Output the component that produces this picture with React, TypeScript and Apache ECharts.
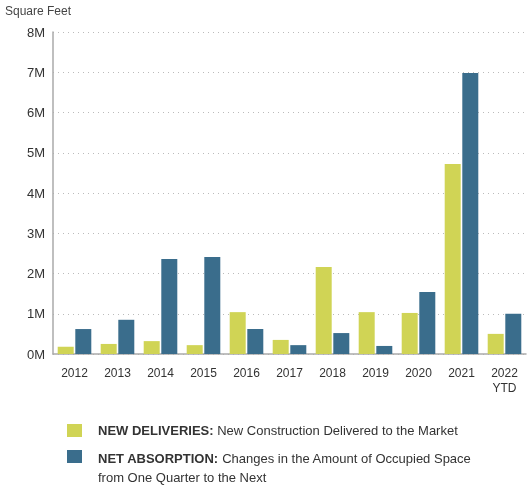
import React, { useEffect, useRef } from "react";
import * as echarts from "echarts";

const categories = ["2012", "2013", "2014", "2015", "2016", "2017", "2018", "2019", "2020", "2021", "2022\nYTD"];
const newDeliveries = [0.18, 0.25, 0.32, 0.22, 1.04, 0.35, 2.16, 1.04, 1.02, 4.72, 0.5];
const netAbsorption = [0.62, 0.85, 2.36, 2.41, 0.62, 0.22, 0.52, 0.2, 1.54, 6.98, 1.0];
const yTicks = ["0M", "1M", "2M", "3M", "4M", "5M", "6M", "7M", "8M"];

const FONT = "'Liberation Sans Narrow', 'Liberation Sans', Arial, sans-serif";
const YELLOW = "#d0d455";
const BLUE = "#3a6d8c";

export default function App() {
  const ref = useRef<HTMLDivElement>(null);
  useEffect(() => {
    if (!ref.current) return;
    const chart = echarts.init(ref.current, null, { renderer: "svg" });
    chart.setOption({
      animation: false,
      grid: { left: 53, right: 3, top: 32, bottom: 133 },
      xAxis: {
        type: "category",
        data: categories,
        axisLine: { lineStyle: { color: "#aaaaaa", width: 1.5 } },
        axisTick: { show: false },
        axisLabel: { color: "#333", fontFamily: FONT, fontSize: 12, margin: 11, lineHeight: 15 },
      },
      yAxis: {
        type: "value",
        min: 0,
        max: 8,
        interval: 1,
        axisLine: { show: true, lineStyle: { color: "#aaaaaa", width: 1.5 } },
        axisTick: { show: false },
        axisLabel: {
          color: "#333",
          fontFamily: FONT,
          fontSize: 13,
          margin: 8,
          formatter: (v: number) => yTicks[Math.round(v)],
        },
        splitLine: { lineStyle: { color: "#bbbbbb", type: [1, 4], width: 1 } },
      },
      series: [
        {
          name: "NEW DELIVERIES",
          type: "bar",
          data: newDeliveries,
          barWidth: 16,
          barGap: "10%",
          itemStyle: { color: YELLOW },
        },
        {
          name: "NET ABSORPTION",
          type: "bar",
          data: netAbsorption,
          barWidth: 16,
          itemStyle: { color: BLUE },
        },
      ],
      graphic: [
        {
          type: "text",
          left: 5,
          top: 5,
          style: { text: "Square Feet", fill: "#444", font: `12px ${FONT}` },
        },
        { type: "rect", shape: { x: 67, y: 424, width: 15, height: 13 }, style: { fill: YELLOW } },
        { type: "rect", shape: { x: 67, y: 450, width: 15, height: 13 }, style: { fill: BLUE } },
        {
          type: "text",
          x: 98,
          y: 424,
          style: {
            text: "{b|NEW DELIVERIES:} New Construction Delivered to the Market",
            fill: "#333",
            font: `13px ${FONT}`,
            rich: { b: { fontWeight: "bold", fontFamily: FONT, fontSize: 13, fill: "#333" } },
          },
        },
        {
          type: "text",
          x: 98,
          y: 449,
          style: {
            text: "{b|NET ABSORPTION:} Changes in the Amount of Occupied Space\nfrom One Quarter to the Next",
            fill: "#333",
            font: `13px ${FONT}`,
            lineHeight: 19,
            rich: { b: { fontWeight: "bold", fontFamily: FONT, fontSize: 13, fill: "#333", lineHeight: 19 } },
          },
        },
      ],
    });
    return () => chart.dispose();
  }, []);
  return <div ref={ref} style={{ position: "fixed", left: 0, top: 0, width: 529, height: 487 }} />;
}
